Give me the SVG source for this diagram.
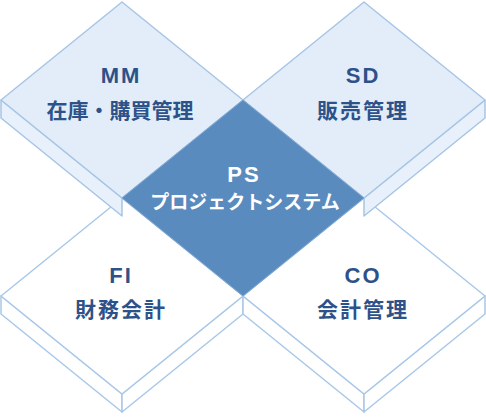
<svg xmlns="http://www.w3.org/2000/svg" width="486" height="420" viewBox="0 0 486 420">
<style>
.face-b{fill:#e2edf9;stroke:#a7c5e5;stroke-width:1.5;stroke-linejoin:round}
.side-b{fill:#e8f1fb;stroke:#a7c5e5;stroke-width:1.5;stroke-linejoin:round}
.face-w{fill:#ffffff;stroke:#a9c8e8;stroke-width:1.5;stroke-linejoin:round}
.side-w{fill:#ffffff;stroke:#a9c8e8;stroke-width:1.5;stroke-linejoin:round}
.ps{fill:#5a8bbf;stroke:#7ea6d0;stroke-width:1}
.en{font-family:"Liberation Sans",Arial,sans-serif;font-weight:bold;font-size:22px;letter-spacing:2px;text-anchor:middle;fill:#2d5289}
.jp{font-family:"Noto Sans CJK JP","Noto Sans CJK SC",sans-serif;font-weight:bold;font-size:21px;letter-spacing:2px;text-anchor:middle;fill:#2d5289}
.tight{letter-spacing:0px}
.enw{fill:#ffffff}
.jpw{font-size:19px;letter-spacing:0px;fill:#ffffff}
</style>
<g id="FI">
<polygon class="side-w" points="1,296 122,394 122,412 1,314"/>
<polygon class="side-w" points="122,394 243,296 243,314 122,412"/>
<polygon class="face-w" points="122,198 243,296 122,394 1,296"/>
<text class="en" x="121" y="283">FI</text>
<text class="jp" x="121" y="317">財務会計</text>
</g>
<g id="CO">
<polygon class="side-w" points="243,296 364,394 364,412 243,314"/>
<polygon class="side-w" points="364,394 485,296 485,314 364,412"/>
<polygon class="face-w" points="364,198 485,296 364,394 243,296"/>
<text class="en" x="363" y="283">CO</text>
<text class="jp" x="363" y="317">会計管理</text>
</g>
<g id="MM">
<polygon class="side-b" points="1,100 122,198 122,216 1,118"/>
<polygon class="face-b" points="122,2 243,100 122,198 1,100"/>
<text class="en" x="121" y="83">MM</text>
<text class="jp tight" x="120" y="118">在庫・購買管理</text>
</g>
<g id="SD">
<polygon class="side-b" points="485,100 364,198 364,216 485,118"/>
<polygon class="face-b" points="364,2 485,100 364,198 243,100"/>
<text class="en" x="363" y="83">SD</text>
<text class="jp" x="363" y="118">販売管理</text>
</g>
<g id="PS">
<polygon class="ps" points="243,100 364,198 243,296 122,198"/>
<text class="en enw" x="244" y="182">PS</text>
<text class="jp jpw" x="245" y="209">プロジェクトシステム</text>
</g>
<g id="connectors"></g>
</svg>
